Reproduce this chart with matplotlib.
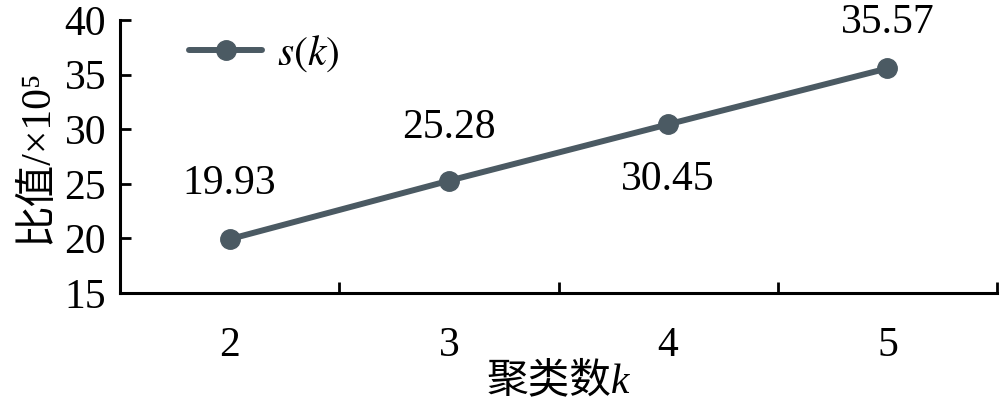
import matplotlib
matplotlib.use("Agg")
from matplotlib import pyplot as plt

# data
k_values = ["2", "3", "4", "5"]
s_values = [19.93, 25.28, 30.45, 35.57]

plt.rcParams['font.family'] = ['Liberation Serif', 'Noto Sans CJK SC']
plt.rcParams['mathtext.fontset'] = 'stix'

line_color = "#4b5a63"
fs = 30

fig = plt.figure(figsize=(10, 4.01), dpi=100)
ax = fig.add_axes([0.12, 0.2693, 0.877, 0.6807])

x = list(range(len(k_values)))
ax.plot(x, s_values, color=line_color, linewidth=4.3, marker="o", markersize=14,
        solid_capstyle="round", label="$s(k)$")

# data labels (offsets in points)
offsets = [40, 38, -40, 33]
for xi, v, dy in zip(x, s_values, offsets):
    ax.annotate(f"{v:.2f}", (xi, v), xytext=(0, dy), textcoords="offset points",
                ha="center", va="center", fontsize=fs)

ax.set_xlim(-0.5, len(k_values) - 0.5)
ax.set_ylim(15, 40)
ax.set_yticks(range(15, 41, 5))

# category boundaries as major ticks, labels on minor ticks
ax.set_xticks([i - 0.5 for i in range(len(k_values) + 1)])
ax.set_xticklabels([])
ax.set_xticks(x, minor=True)
ax.set_xticklabels(k_values, minor=True)
ax.tick_params(axis="x", which="major", direction="in", length=8, width=2)
ax.tick_params(axis="x", which="minor", length=0, pad=24, labelsize=fs)
ax.tick_params(axis="y", direction="in", length=8, width=2, pad=10, labelsize=fs)

for side in ["top", "right"]:
    ax.spines[side].set_visible(False)
for side in ["left", "bottom"]:
    ax.spines[side].set_linewidth(2.2)

ax.set_ylabel("比值/×10⁵", fontsize=fs, labelpad=6)
ax.set_xlabel("聚类数k", fontsize=fs, style="italic", labelpad=-2)

ax.legend(loc="upper left", frameon=False, fontsize=fs, handlelength=1.75,
          handletextpad=0.35, bbox_to_anchor=(0.036, 1.09))

fig.savefig("out.png", dpi=100)
